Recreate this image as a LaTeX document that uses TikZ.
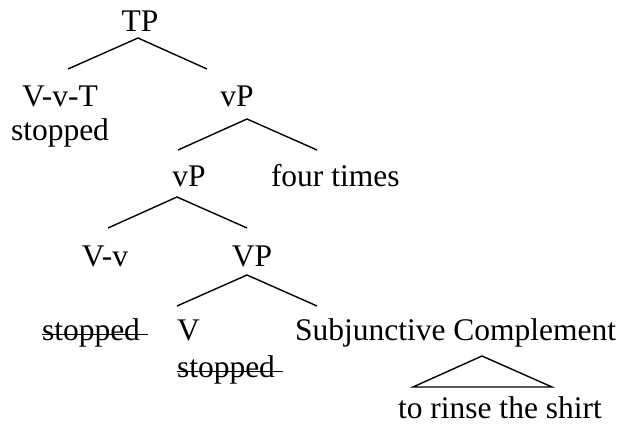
\documentclass[tikz,border=0pt]{standalone}
\usepackage{fontspec}
\setmainfont{Liberation Serif}
\newcommand\strk[1]{\setbox0\hbox{#1\ }\rlap{\rule[5.5pt]{\wd0}{1.4pt}}#1}
\tikzset{
  lbl/.style={anchor=base west, inner sep=0pt, outer sep=0pt, font=\fontsize{31.5}{36}\selectfont},
  cbl/.style={anchor=base, inner sep=0pt, outer sep=0pt, font=\fontsize{31.5}{36}\selectfont},
  br/.style={line width=1.4pt, line cap=butt, line join=miter}
}
\begin{document}
\begin{tikzpicture}[x=1pt, y=-1pt]
\useasboundingbox (0,0) rectangle (622,430);
% nodes
\node[cbl] (TP) at (140,32) {TP};
\node[cbl] (VvT) at (60,107) {V-v-T};
\node[cbl] (VvTs) at (60,141) {stopped};
\node[cbl] (vP1) at (237,107) {vP};
\node[cbl] (vP2) at (189,187) {vP};
\node[lbl] (four) at (271,187) {four times};
\node[cbl] (Vv) at (105,267) {V-v};
\node[cbl] (VP) at (252,267) {VP};
\node[lbl] (st1) at (42,341) {\strk{stopped}};
\node[lbl] (V) at (177,341) {V};
\node[lbl] (st2) at (177,378) {\strk{stopped}};
\node[lbl] (SC) at (295,341) {Subjunctive Complement};
\node[lbl] (rinse) at (398,419) {to rinse the shirt};
% branch points
\coordinate (a1) at (138,38);  \coordinate (l1) at (68,69);   \coordinate (r1) at (207,69);
\coordinate (a2) at (247,119); \coordinate (l2) at (178,150); \coordinate (r2) at (317,150);
\coordinate (a3) at (177,197); \coordinate (l3) at (108,228); \coordinate (r3) at (247,228);
\coordinate (a4) at (247,275); \coordinate (l4) at (177,306); \coordinate (r4) at (317,306);
\coordinate (a5) at (482,356); \coordinate (l5) at (413,387); \coordinate (r5) at (552,387);
\draw[br] (l1) -- (a1) -- (r1);
\draw[br] (l2) -- (a2) -- (r2);
\draw[br] (l3) -- (a3) -- (r3);
\draw[br] (l4) -- (a4) -- (r4);
\draw[br] (l5) -- (a5) -- (r5) -- cycle;
\end{tikzpicture}
\end{document}
